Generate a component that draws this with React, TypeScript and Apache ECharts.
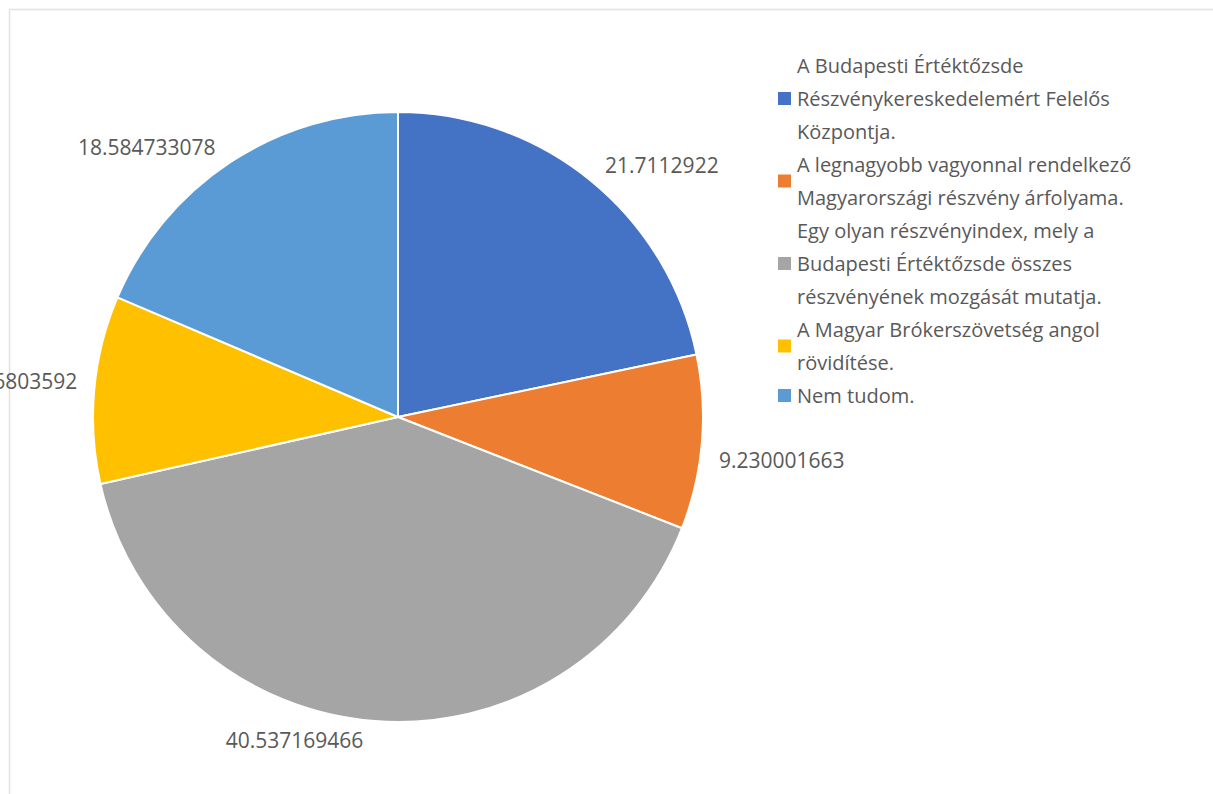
import React, { useEffect, useRef } from "react";
import * as echarts from "echarts";

const categories: string[] = [
  "A Budapesti Értéktőzsde\nRészvénykereskedelemért Felelős\nKözpontja.",
  "A legnagyobb vagyonnal rendelkező\nMagyarországi részvény árfolyama.",
  "Egy olyan részvényindex, mely a\nBudapesti Értéktőzsde összes\nrészvényének mozgását mutatja.",
  "A Magyar Brókerszövetség angol\nrövidítése.",
  "Nem tudom.",
];
const values: number[] = [21.7112922, 9.230001663, 40.537169466, 9.936803592, 18.584733078];
const colors: string[] = ["#4472C4", "#ED7D31", "#A5A5A5", "#FFC000", "#5B9BD5"];

// Excel-like vertical nudges of the value labels (style only)
const labelNudgeY: number[] = [-11, 17, 13, -8, -11];

export default function App() {
  const ref = useRef<HTMLDivElement>(null);
  useEffect(() => {
    if (!ref.current) return;
    const chart = echarts.init(ref.current, undefined, { renderer: "svg" });
    chart.setOption({
      animation: false,
      color: colors,
      graphic: [
        {
          type: "rect",
          shape: { x: 9.5, y: 9.5, width: 1400, height: 1000 },
          style: { fill: "none", stroke: "#e3e3e3", lineWidth: 1.5 },
          silent: true,
        },
      ],
      legend: {
        orient: "vertical",
        left: 771,
        top: 44,
        itemWidth: 15,
        itemHeight: 15,
        itemGap: 0,
        icon: "rect",
        selectedMode: false,
        textStyle: {
          fontFamily: "Open Sans",
          fontSize: 20,
          color: "#595959",
          lineHeight: 33,
        },
        data: categories,
      },
      series: [
        {
          type: "pie",
          center: [398, 417],
          radius: 305,
          startAngle: 90,
          clockwise: true,
          itemStyle: { borderColor: "#ffffff", borderWidth: 2 },
          label: {
            show: true,
            position: "outside",
            overflow: "none",
            fontFamily: "Open Sans",
            fontSize: 21,
            color: "#595959",
            formatter: (p: any) => String(p.value),
          },
          labelLine: { show: false, length: 6, length2: 6 },
          labelLayout: (p: any) => ({ dy: labelNudgeY[p.dataIndex] || 0 }),
          emphasis: { disabled: true },
          data: categories.map((name, i) => ({ name, value: values[i] })),
        },
      ],
    });
    return () => chart.dispose();
  }, []);
  return (
    <div
      ref={ref}
      style={{ position: "fixed", left: 0, top: 0, width: 1213, height: 794, background: "#fff" }}
    />
  );
}
